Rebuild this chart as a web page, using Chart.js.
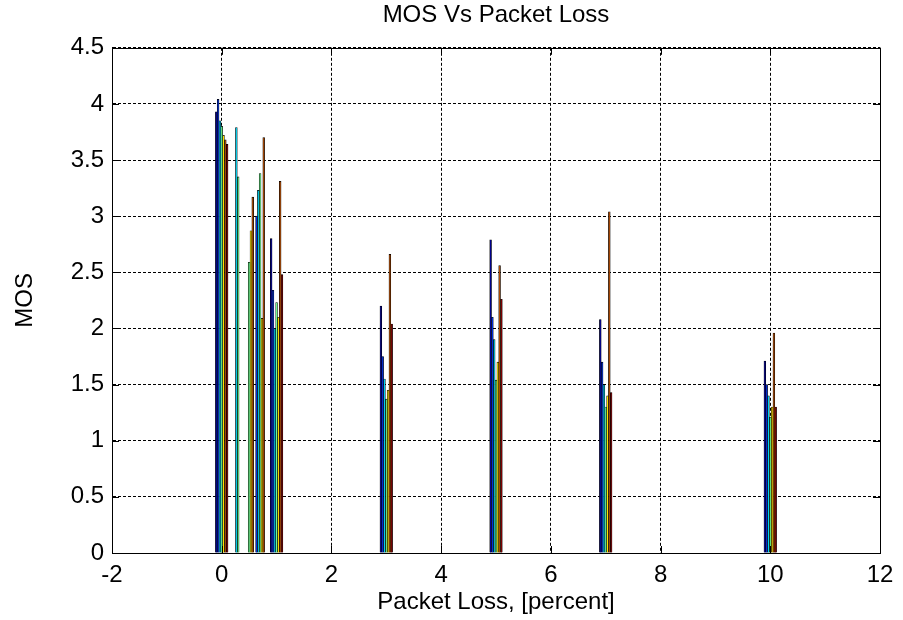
<!DOCTYPE html>
<html>
<head>
<meta charset="utf-8">
<script src="https://cdn.jsdelivr.net/npm/chart.js@4/dist/chart.umd.min.js"></script>
<style>
  html, body { margin: 0; padding: 0; background: #fff; }
  #wrap { width: 903px; height: 620px; }
</style>
</head>
<body>
<div id="wrap"><canvas id="c" width="903" height="620"></canvas></div>
<script>
// Packet loss levels (percent) at which MOS was measured
const packetLoss = [0, 0.3, 0.5, 0.7, 1, 3, 5, 7, 10];

// MOS per test series (null = no bar at that loss level)
const series1 = [3.93, null, null, null, 2.80, 2.20, 2.79, 2.08, 1.71];
const series2 = [4.04, null, null, 3.00, 2.34, 1.75, 2.10, 1.70, 1.50];
const series3 = [3.85, 3.79, null, 3.23, 2.00, 1.55, 1.90, 1.50, 1.40];
const series4 = [3.80, 3.35, 2.59, 3.38, 2.23, 1.37, 1.54, 1.30, 1.21];
const series5 = [3.72, null, 2.87, 2.09, 2.10, 1.45, 1.70, 1.40, 1.30];
const series6 = [3.68, null, 3.17, 3.70, 3.31, 2.66, 2.56, 3.04, 1.96];
const series7 = [3.64, null, null, null, 2.48, 2.04, 2.26, 1.43, 1.30];

const allSeries = [series1, series2, series3, series4, series5, series6, series7];
// jet-style colour ramp, dark blue through dark red
const jetColors = ['#00008f', '#0030e0', '#00d0f0', '#70ff8f', '#ffe000', '#b04a00', '#800000'];

const xTicks = [-2, 0, 2, 4, 6, 8, 10, 12];
const yTicks = [0, 0.5, 1, 1.5, 2, 2.5, 3, 3.5, 4, 4.5];

const FONT = "'Liberation Sans', Arial, sans-serif";

const datasets = allSeries.map((vals, i) => ({
  label: 'Series ' + (i + 1),
  data: packetLoss.map((x, j) => ({ x: x, y: vals[j] })),
  backgroundColor: jetColors[i],
  borderColor: '#000',
  borderWidth: 0.65,
  borderSkipped: 'start',
  barThickness: 1.8
}));

// Solid box round the plot area plus short inward tick marks
const boxPlugin = {
  id: 'box',
  afterDatasetsDraw(chart) {
    const { ctx, chartArea: a, scales } = chart;
    ctx.save();
    ctx.strokeStyle = '#000';
    ctx.lineWidth = 1;
    ctx.strokeRect(Math.round(a.left) + 0.5, Math.round(a.top) + 0.5,
                   Math.round(a.right - a.left), Math.round(a.bottom - a.top));
    ctx.beginPath();
    const tl = 7;
    xTicks.forEach(v => {
      const px = Math.round(scales.x.getPixelForValue(v)) + 0.5;
      ctx.moveTo(px, a.bottom); ctx.lineTo(px, a.bottom - tl);
      ctx.moveTo(px, a.top); ctx.lineTo(px, a.top + tl);
    });
    yTicks.forEach(v => {
      const py = Math.round(scales.y.getPixelForValue(v)) + 0.5;
      ctx.moveTo(a.left, py); ctx.lineTo(a.left + tl, py);
      ctx.moveTo(a.right, py); ctx.lineTo(a.right - tl, py);
    });
    ctx.stroke();
    ctx.restore();
  }
};

new Chart(document.getElementById('c'), {
  type: 'bar',
  data: { datasets },
  options: {
    responsive: false,
    animation: false,
    layout: { padding: { left: 0, right: 23, top: 0, bottom: 0 } },
    plugins: {
      legend: { display: false },
      tooltip: { enabled: false },
      title: {
        display: true,
        text: 'MOS Vs Packet Loss',
        fullSize: false,
        color: '#000',
        font: { family: FONT, size: 24, weight: 'normal' },
        padding: { top: 1, bottom: 18 }
      }
    },
    scales: {
      x: {
        type: 'linear',
        offset: false,
        min: -2, max: 12,
        afterBuildTicks(scale) { scale.ticks = xTicks.map(v => ({ value: v })); },
        afterFit(scale) { scale.height = 67; },
        grid: { color: '#000', lineWidth: 1, drawTicks: false, offset: false },
        border: { display: true, color: '#000', width: 1, dash: [3, 2] },
        ticks: { color: '#000', padding: 8, font: { family: FONT, size: 24 }, maxRotation: 0,
                 callback: v => String(v) },
        title: {
          display: true, text: 'Packet Loss, [percent]', color: '#000',
          font: { family: FONT, size: 24 }, padding: { top: 0, bottom: 3 }
        }
      },
      y: {
        type: 'linear',
        min: 0, max: 4.5,
        afterBuildTicks(scale) { scale.ticks = yTicks.map(v => ({ value: v })); },
        afterFit(scale) { scale.width = 112; },
        grid: { color: '#000', lineWidth: 1, drawTicks: false },
        border: { display: true, color: '#000', width: 1, dash: [3, 2] },
        ticks: { color: '#000', padding: 8, font: { family: FONT, size: 24 },
                 callback: v => String(v) },
        title: {
          display: true, text: 'MOS', color: '#000',
          font: { family: FONT, size: 24 }, padding: { top: 11 }
        }
      }
    }
  },
  plugins: [boxPlugin]
});
</script>
</body>
</html>
